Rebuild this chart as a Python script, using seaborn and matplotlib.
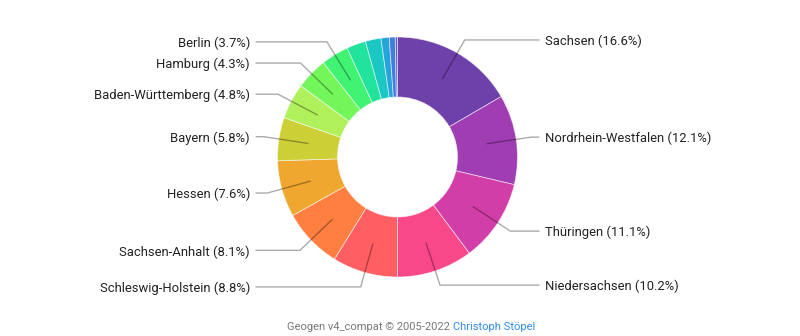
import math
import numpy as np
import matplotlib
matplotlib.use("Agg")
import matplotlib.pyplot as plt
import seaborn as sns

states = ["Sachsen", "Nordrhein-Westfalen", "Thüringen", "Niedersachsen",
          "Schleswig-Holstein", "Sachsen-Anhalt", "Hessen", "Bayern",
          "Baden-Württemberg", "Hamburg", "Berlin",
          "Mecklenburg-Vorpommern", "Brandenburg", "Rheinland-Pfalz",
          "Saarland", "Bremen"]
shares = [16.6, 12.1, 11.1, 10.2, 8.8, 8.1, 7.6, 5.8, 4.8, 4.3, 3.7,
          2.6, 2.1, 1.1, 0.8, 0.3]
labeled = [True] * 11 + [False] * 5


def rainbow(t):
    # d3.interpolateRainbow (cubehelix)
    t = t - math.floor(t)
    ts = abs(t - 0.5)
    h = 360 * t - 100
    s = 1.5 - 1.5 * ts
    l = 0.8 - 0.9 * ts
    h = (h + 120) * math.pi / 180
    a = s * l * (1 - l)
    ch, sh = math.cos(h), math.sin(h)
    r = l + a * (-0.14861 * ch + 1.78277 * sh)
    g = l + a * (-0.29227 * ch - 0.90649 * sh)
    b = l + a * (1.97294 * ch)
    return tuple(min(1, max(0, v)) for v in (r, g, b))


sns.set_theme(style="white")
plt.rcParams['font.family'] = ['Roboto', 'DejaVu Sans']
palette = sns.color_palette([rainbow(i / len(states)) for i in range(len(states))])

W, H = 800, 336
fig = plt.figure(figsize=(W / 100, H / 100), dpi=100)
ax = fig.add_axes([0, 0, 1, 1])

cx, cy = 397.5, H - 157
R_out, R_in = 120, 60

wedges, _ = ax.pie(shares, colors=palette, startangle=90, counterclock=False,
                   radius=R_out, center=(cx, cy),
                   wedgeprops=dict(width=R_out - R_in, edgecolor=(1, 1, 1, 0.6), linewidth=0.6))
ax.set_xlim(0, W)
ax.set_ylim(0, H)
ax.set_aspect("equal")
ax.axis("off")

cum = 0.0
line_col = (0, 0, 0, 0.33)
for name, v, show in zip(states, shares, labeled):
    mid = (cum + v / 2) / 100 * 2 * math.pi
    cum += v
    if not show:
        continue
    sx, sy = math.sin(mid), math.cos(mid)
    p0 = (cx + 90 * sx, cy + 90 * sy)
    p1 = (cx + 135 * sx, cy + 135 * sy)
    right = sx >= 0
    xend = cx + 142 if right else cx - 142
    ax.plot([p0[0], p1[0], xend], [p0[1], p1[1], p1[1]], color=line_col, lw=1,
            solid_capstyle="butt", zorder=3)
    ax.text(xend + (5.5 if right else -5.5), p1[1] - 1.5, f"{name} ({v}%)",
            ha="left" if right else "right", va="center", fontsize=9.4,
            color="#222222")

t1 = ax.text(0, 0, "Geogen v4_compat © 2005-2022 ", fontsize=8, color="#777777",
             ha="left", va="center")
t2 = ax.text(0, 0, "Christoph Stöpel", fontsize=8, color="#2f8be6",
             ha="left", va="center")
fig.canvas.draw()
r = fig.canvas.get_renderer()
w1 = t1.get_window_extent(r).width
w2 = t2.get_window_extent(r).width
x0 = 411 - (w1 + w2) / 2
t1.set_position((x0, H - 327))
t2.set_position((x0 + w1, H - 327))

fig.savefig("out.png", dpi=100)
